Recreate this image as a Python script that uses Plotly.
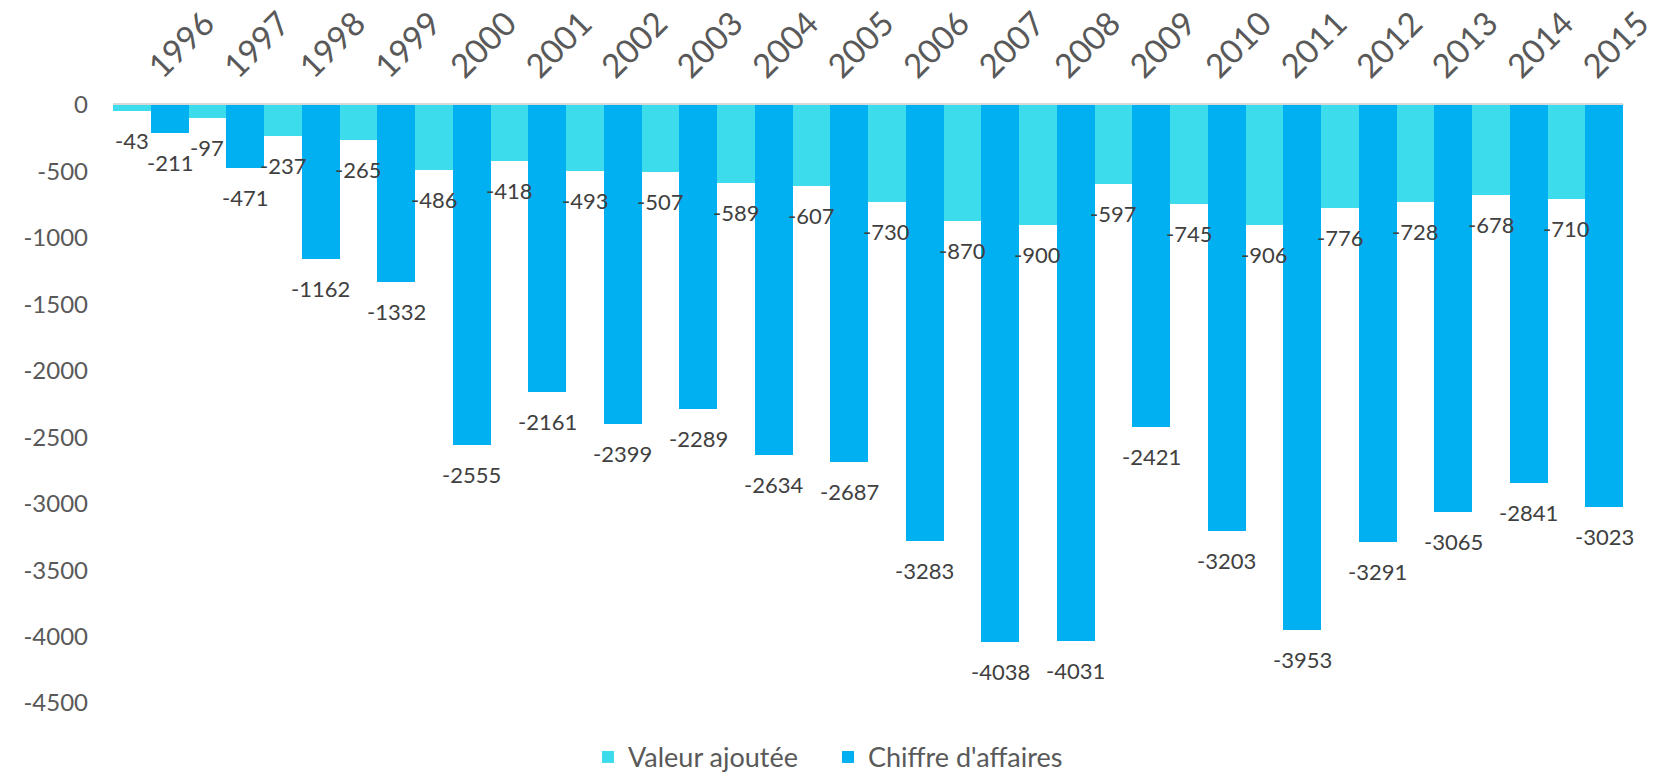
import plotly.graph_objects as go

years = [str(y) for y in range(1996, 2016)]
valeur_ajoutee = [-43, -97, -237, -265, -486, -418, -493, -507, -589, -607,
                  -730, -870, -900, -597, -745, -906, -776, -728, -678, -710]
chiffre_affaires = [-211, -471, -1162, -1332, -2555, -2161, -2399, -2289, -2634, -2687,
                    -3283, -4038, -4031, -2421, -3203, -3953, -3291, -3065, -2841, -3023]
y_ticks = [0, -500, -1000, -1500, -2000, -2500, -3000, -3500, -4000, -4500]

FONT = "Lato"
W, H = 1665, 774
ML, MR, MT, MB = 113, 42, 105, 71
plot_w = W - ML - MR
half = plot_w / len(years) / 4  # offset of each bar centre from category centre

fig = go.Figure()
fig.add_trace(go.Bar(
    x=years, y=valeur_ajoutee, name="Valeur ajoutée",
    marker=dict(color="#3DDCEC", line=dict(width=0)),
))
fig.add_trace(go.Bar(
    x=years, y=chiffre_affaires, name="Chiffre d'affaires",
    marker=dict(color="#00B0F0", line=dict(width=0)),
))

annotations = []
for series, shift in ((valeur_ajoutee, -half), (chiffre_affaires, half)):
    for i, v in enumerate(series):
        annotations.append(dict(
            x=i, y=v, xref="x", yref="y", text=str(v), showarrow=False,
            xshift=shift, yshift=-14, yanchor="top", xanchor="center",
            font=dict(family=FONT, size=22, color="#404040"),
        ))

fig.update_layout(
    width=W, height=H,
    barmode="group", bargap=0, bargroupgap=0,
    plot_bgcolor="white", paper_bgcolor="white",
    margin=dict(l=ML, r=MR, t=MT, b=MB, autoexpand=False),
    font=dict(family=FONT, color="#595959"),
    legend=dict(orientation="h", x=(588 - ML) / plot_w, xanchor="left",
                y=-0.05, yanchor="top",
                font=dict(family=FONT, size=27, color="#595959"), itemwidth=30,
                entrywidth=195, entrywidthmode="pixels",
                traceorder="normal"),
    showlegend=True,
    annotations=annotations,
)
fig.update_xaxes(
    type="category", categoryorder="array", categoryarray=years,
    range=[-0.5, len(years) - 0.5],
    side="top", tickangle=-45, showline=True, linecolor="#D9D9D9", linewidth=2,
    tickfont=dict(family=FONT, size=33, color="#595959"),
    ticks="", ticklabelstandoff=5, showgrid=False,
)
fig.update_yaxes(
    range=[-4500, 0], tickvals=y_ticks, ticktext=[str(v) for v in y_ticks],
    showgrid=False, zeroline=False, showline=False,
    tickfont=dict(family=FONT, size=24, color="#595959"),
    ticks="", ticklabelstandoff=24,
)

fig.write_html("out.html", config={"displayModeBar": False},
               post_script="document.body.style.margin='0';document.body.style.overflow='hidden';")
